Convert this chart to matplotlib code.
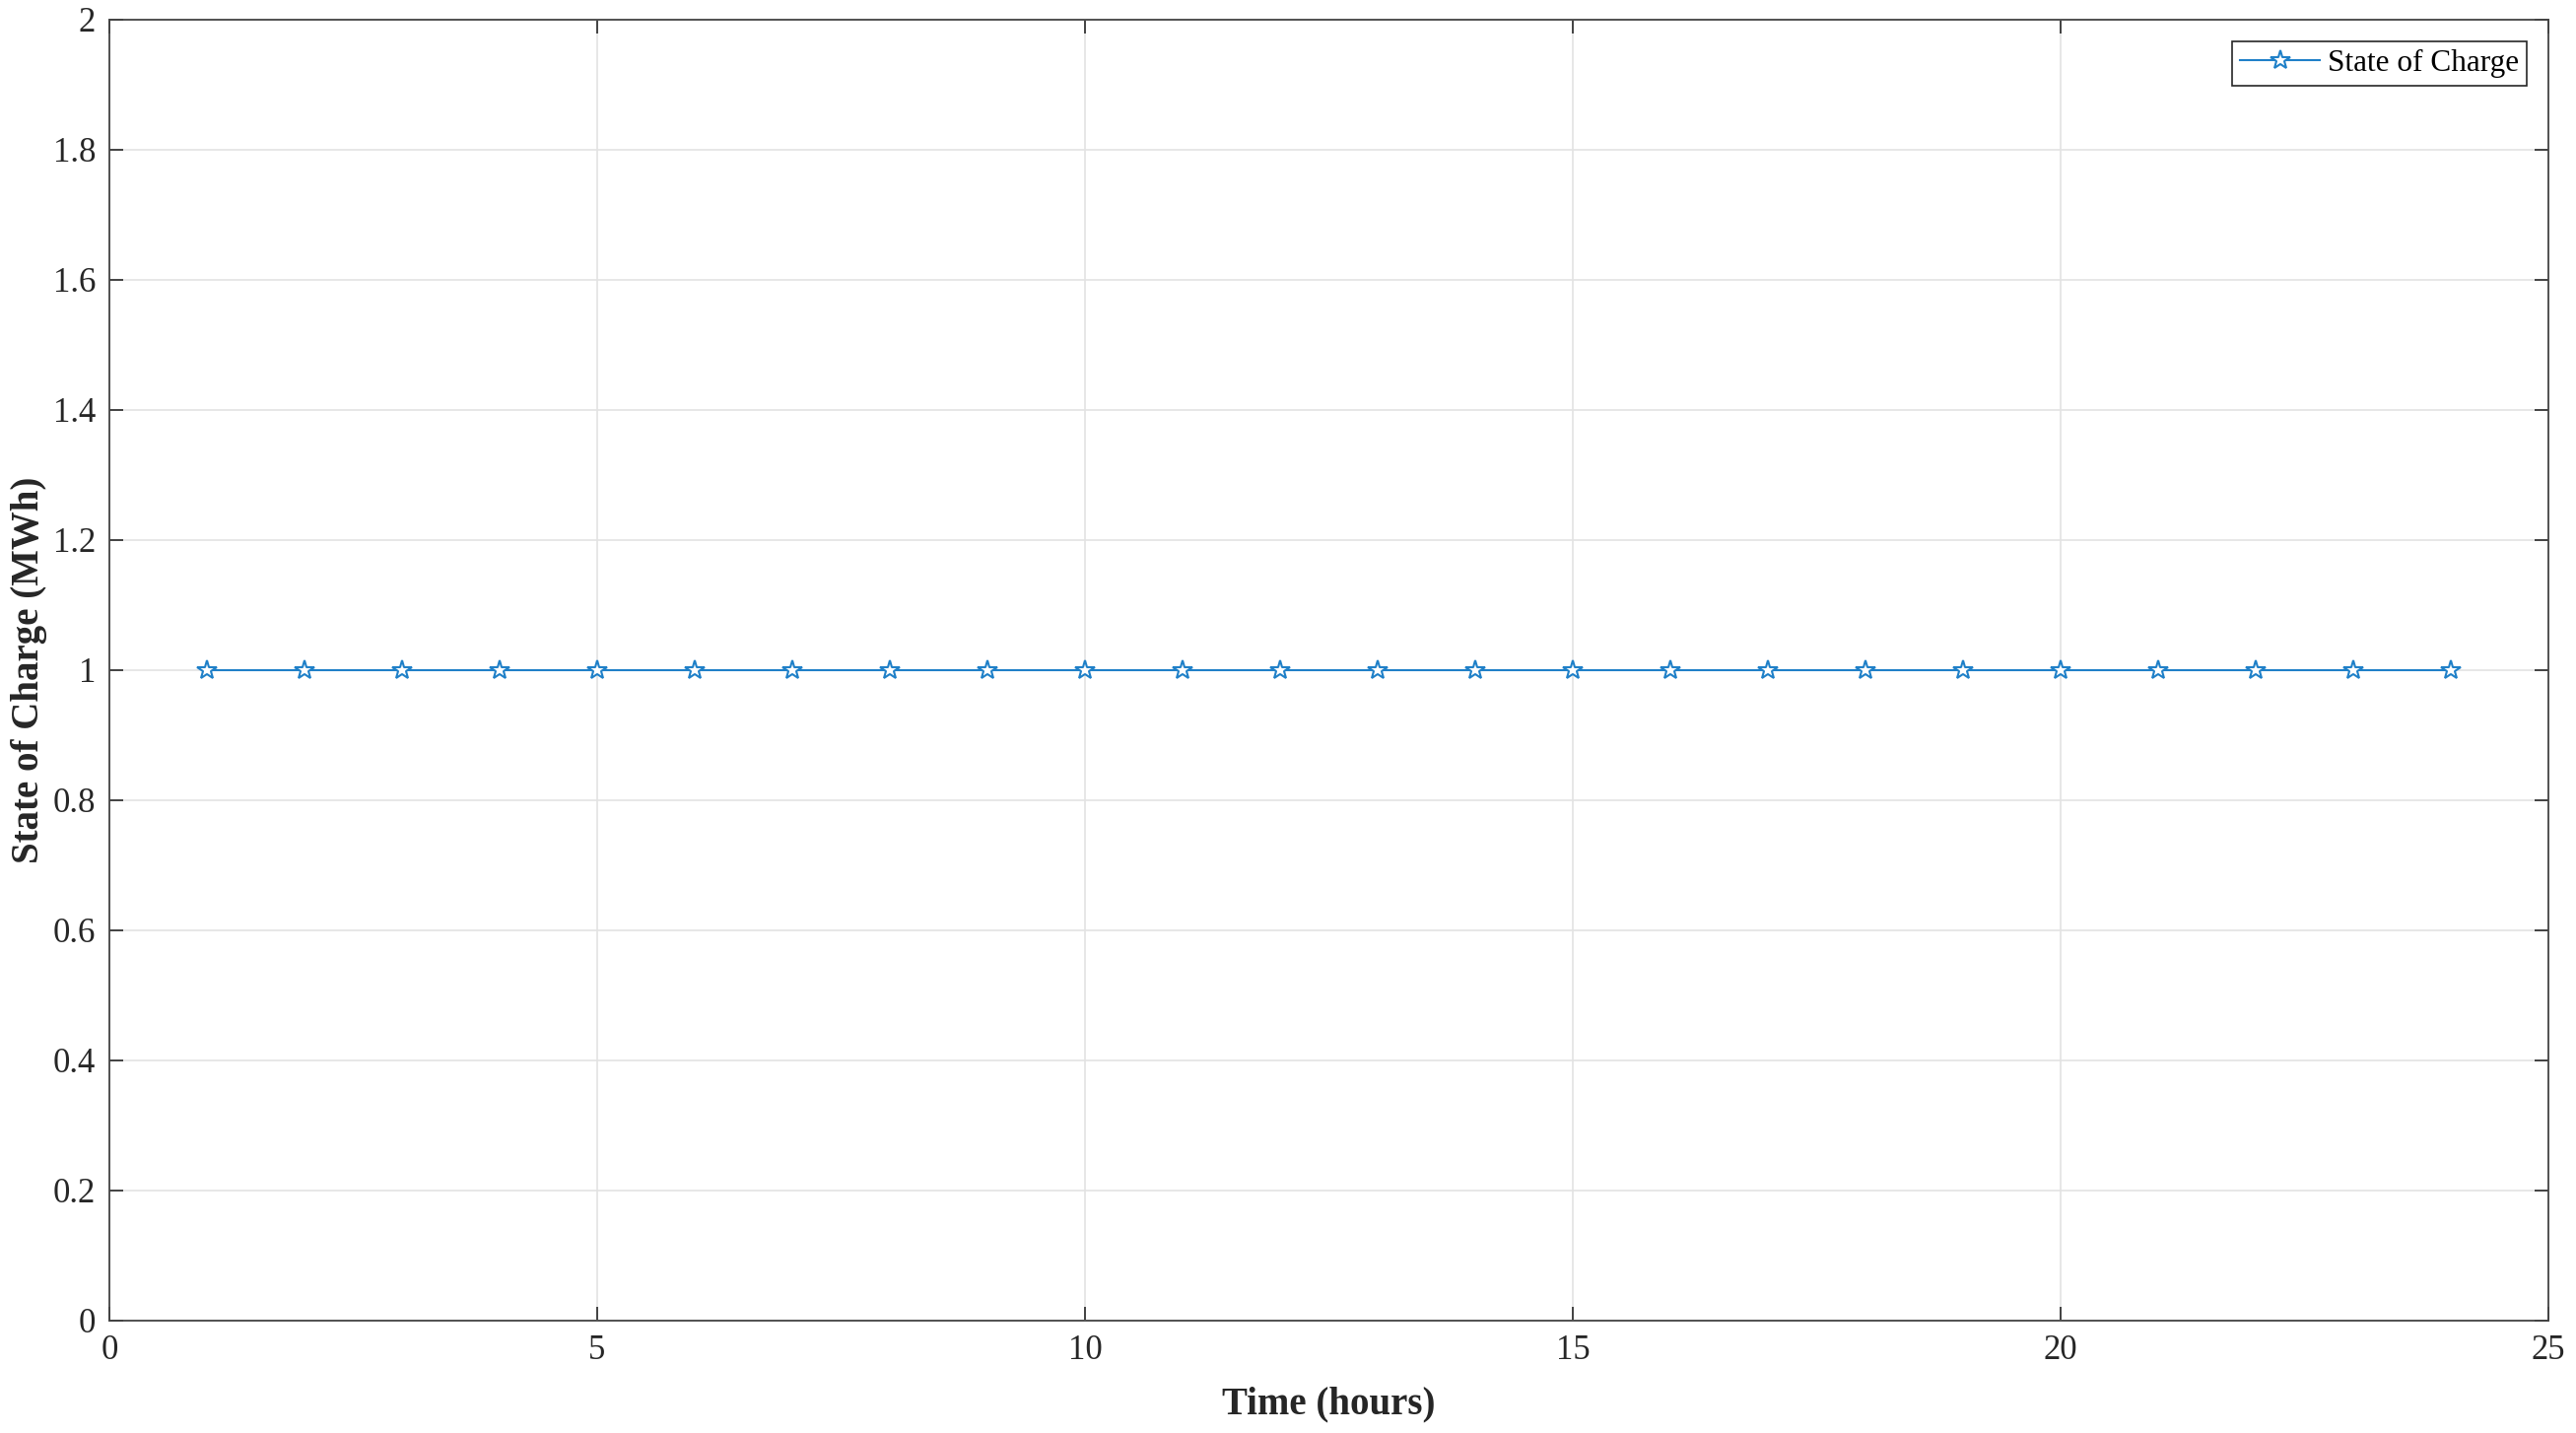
import matplotlib
matplotlib.use("Agg")
import matplotlib.pyplot as plt

hours = list(range(1, 25))
state_of_charge = [1, 1, 1, 1, 1, 1, 1, 1, 1, 1, 1, 1,
                   1, 1, 1, 1, 1, 1, 1, 1, 1, 1, 1, 1]
x_ticks = [0, 5, 10, 15, 20, 25]
y_ticks = [0, 0.2, 0.4, 0.6, 0.8, 1, 1.2, 1.4, 1.6, 1.8, 2]
y_tick_labels = ["0", "0.2", "0.4", "0.6", "0.8", "1", "1.2", "1.4", "1.6", "1.8", "2"]

plt.rcParams["font.family"] = ["Liberation Serif", "DejaVu Serif"]

fig = plt.figure(figsize=(26.14, 14.54), dpi=100)
ax = fig.add_axes([111 / 2614, 1 - 1340 / 1454, (2586 - 111) / 2614, (1340 - 20) / 1454])

ax.plot(hours, state_of_charge, color="#1f80c8", linewidth=1.5, marker="*",
        markersize=15, markerfacecolor="white", markeredgecolor="#1f80c8",
        markeredgewidth=1.5, label="State of Charge")

ax.set_xlim(0, 25)
ax.set_ylim(0, 2)
ax.set_xticks(x_ticks)
ax.set_yticks(y_ticks)
ax.set_yticklabels(y_tick_labels)
ax.grid(True, color="#e3e3e3", linewidth=1.2)
ax.set_axisbelow(True)
ax.tick_params(direction="in", length=10, width=1.2, top=True, right=True,
               labelsize=25, colors="#262626", pad=10)
for spine in ax.spines.values():
    spine.set_color("#444444")
    spine.set_linewidth(1.3)

ax.set_xlabel("Time (hours)", fontsize=28, fontweight="bold", color="#262626", labelpad=14)
ax.set_ylabel("State of Charge (MWh)", fontsize=28, fontweight="bold", color="#262626", labelpad=4)

leg = ax.legend(loc="upper right", fontsize=22.5, fancybox=False, framealpha=1,
                edgecolor="#262626", borderpad=0.25, handlelength=2.6,
                handletextpad=0.25, borderaxespad=0.7)
leg.get_frame().set_linewidth(1.2)

fig.savefig("out.png", dpi=100)
